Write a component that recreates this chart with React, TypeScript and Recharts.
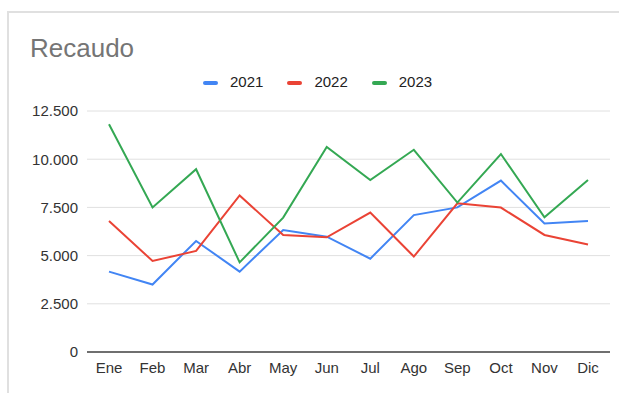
import React from 'react';
import { LineChart, Line, XAxis, YAxis, CartesianGrid, Legend } from 'recharts';

const months = ['Ene', 'Feb', 'Mar', 'Abr', 'May', 'Jun', 'Jul', 'Ago', 'Sep', 'Oct', 'Nov', 'Dic'];
const s2021 = [4170, 3500, 5760, 4170, 6330, 5980, 4840, 7100, 7500, 8890, 6670, 6800];
const s2022 = [6800, 4720, 5240, 8120, 6070, 5950, 7230, 4950, 7710, 7490, 6070, 5580];
const s2023 = [11810, 7500, 9480, 4650, 6970, 10630, 8920, 10490, 7750, 10270, 6990, 8920];
const yTicks = [0, 2500, 5000, 7500, 10000, 12500];
const seriesNames = ['2021', '2022', '2023'];
const seriesColors = ['#4285f4', '#ea4335', '#34a853'];

const data = months.map((m, i) => ({ month: m, '2021': s2021[i], '2022': s2022[i], '2023': s2023[i] }));

const fmt = (v: number) => String(v).replace(/\B(?=(\d{3})+(?!\d))/g, '.');
const FONT = '"Liberation Sans", Arial, sans-serif';

const LegendContent = () => (
  <div style={{ display: 'flex', alignItems: 'center', paddingLeft: 203, fontFamily: FONT, fontSize: 15, color: '#222', lineHeight: '18px' }}>
    {seriesNames.map((n, i) => (
      <div key={n} style={{ display: 'flex', alignItems: 'center', marginRight: 24 }}>
        <span style={{ display: 'inline-block', width: 15, height: 4, borderRadius: 2, background: seriesColors[i], marginRight: 12, marginTop: 2 }} />
        <span>{n}</span>
      </div>
    ))}
  </div>
);

export default function App() {
  return (
    <div style={{ position: 'absolute', left: 0, top: 0, width: 619, height: 393, overflow: 'hidden', background: '#fff' }}>
      <div style={{ position: 'absolute', left: 7, top: 11, width: 800, height: 600, border: '2px solid #e0e0e0', boxSizing: 'border-box' }} />
      <div style={{ position: 'absolute', left: 30, top: 35, fontFamily: FONT, fontSize: 26, lineHeight: '26px', color: '#757575' }}>Recaudo</div>
      <div style={{ position: 'absolute', left: 0, top: 0 }}>
        <LineChart width={619} height={393} data={data} margin={{ top: 111, right: 9, bottom: 11, left: 0 }}>
          <CartesianGrid horizontal vertical={false} stroke="#e0e0e0" strokeWidth={1} />
          <XAxis
            dataKey="month"
            height={30}
            padding={{ left: 22, right: 22 }}
            tickLine={false}
            tickSize={0}
            tickMargin={10}
            axisLine={{ stroke: '#444', strokeWidth: 1.5 }}
            tick={{ fill: '#333', fontSize: 15, fontFamily: FONT }}
            interval={0}
          />
          <YAxis
            width={87}
            domain={[0, 12500]}
            ticks={yTicks}
            tickFormatter={fmt}
            axisLine={false}
            tickLine={false}
            tickSize={0}
            tickMargin={9}
            tick={{ fill: '#333', fontSize: 15, fontFamily: FONT }}
          />
          <Legend
            layout="horizontal"
            verticalAlign="middle"
            align="center"
            content={<LegendContent />}
            wrapperStyle={{ position: 'absolute', top: 73, left: 0, width: 619 }}
          />
          {seriesNames.map((n, i) => (
            <Line
              key={n}
              type="linear"
              dataKey={n}
              stroke={seriesColors[i]}
              strokeWidth={2}
              dot={false}
              activeDot={false}
              isAnimationActive={false}
            />
          ))}
        </LineChart>
      </div>
    </div>
  );
}
